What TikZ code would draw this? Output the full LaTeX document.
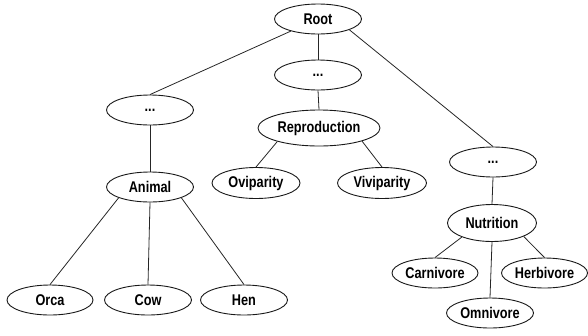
\documentclass[tikz,border=0pt]{standalone}
\usepackage{fontspec}
\newfontfamily\labfont{Liberation Sans Bold}[FakeStretch=0.82]
\usetikzlibrary{shapes.geometric}
\begin{document}
\begin{tikzpicture}[x=1pt,y=-1pt,
  nd/.style={ellipse,draw=black!90,line width=0.9pt,inner sep=0pt,
    minimum width=87pt,minimum height=30pt,font=\labfont\fontsize{15.5}{15.5}\selectfont},
  edge/.style={draw=black!85,line width=0.8pt}]
\useasboundingbox (0,0) rectangle (588,335);
\node[nd] (root) at (318,19) {Root};
\node[nd] (d1) at (150,110) {...};
\node[nd] (d2) at (318,75) {...};
\node[nd] (d3) at (493,162) {...};
\node[nd] (animal) at (150,187) {Animal};
\node[nd,minimum width=122pt,minimum height=36pt] (repro) at (319,128) {Reproduction};
\node[nd,minimum width=88pt,minimum height=31pt] (ovi) at (256,183) {Oviparity};
\node[nd,minimum width=89pt,minimum height=31pt] (vivi) at (382,183) {Viviparity};
\node[nd,minimum width=86pt] (orca) at (50,300) {Orca};
\node[nd] (cow) at (148,300) {Cow};
\node[nd] (hen) at (244,300) {Hen};
\node[nd,minimum width=89pt,minimum height=37pt] (nutr) at (492,223) {Nutrition};
\node[nd,minimum width=86pt] (carn) at (435,273) {Carnivore};
\node[nd,minimum width=86pt] (herb) at (544.5,273) {Herbivore};
\node[nd] (omni) at (490,313) {Omnivore};
\draw[edge] (root.204) -- (d1.north);
\draw[edge] (root.south) -- (d2.north);
\draw[edge] (root.-19.5) -- (d3.north);
\draw[edge] (d2.south) -- (repro.north);
\draw[edge] (d1.south) -- (animal.north);
\draw[edge] (repro.198) -- (ovi.north);
\draw[edge] (repro.-17.6) -- (vivi.north);
\draw[edge] (d3.south) -- (nutr.north);
\draw[edge] (animal.199) -- (orca.north);
\draw[edge] (animal.south) -- (cow.north);
\draw[edge] (animal.-19) -- (hen.north);
\draw[edge] (nutr.205) -- (carn.north);
\draw[edge] (nutr.-23.6) -- (herb.north);
\draw[edge] (nutr.south) -- (omni.north);
\end{tikzpicture}
\end{document}
